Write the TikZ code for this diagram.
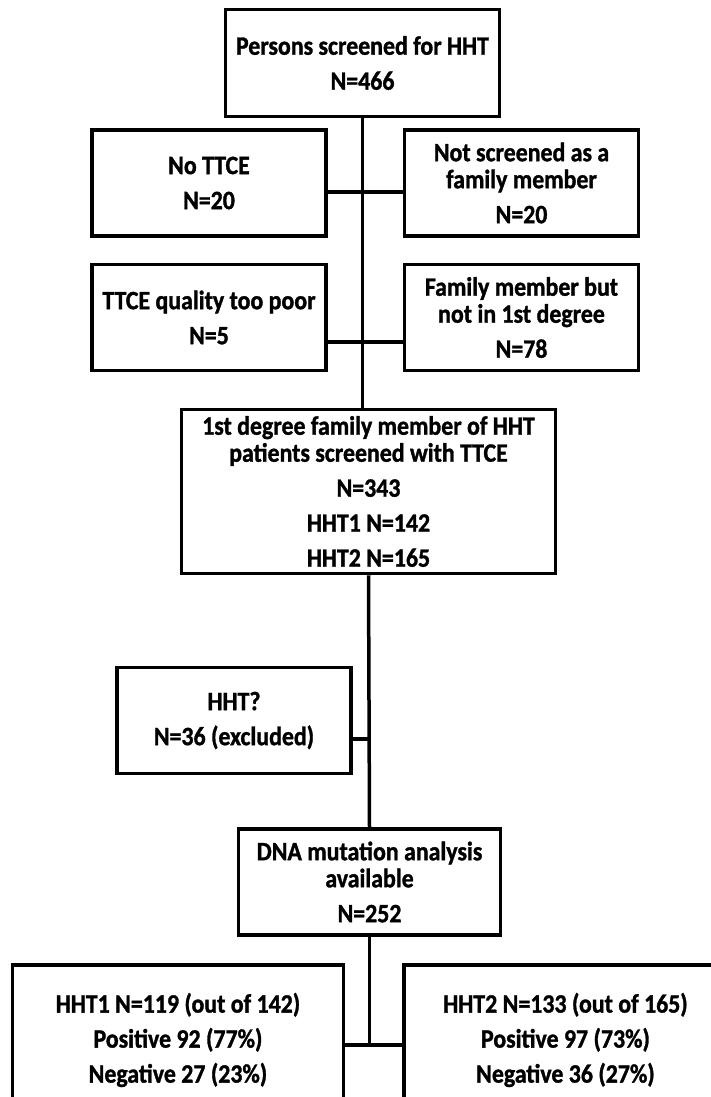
\documentclass[tikz,border=0pt]{standalone}
\usepackage{fontspec}
\setmainfont{Carlito}
\newfontfamily\heavyfont{Carlito Bold}[FakeStretch=0.9, FakeBold=1.2]
\usetikzlibrary{positioning}

\begin{document}
\begin{tikzpicture}[x=1pt, y=1pt, node distance=25pt,
box/.style={rectangle, draw, line width=3.5pt, align=center, inner sep=2pt,
  font=\heavyfont\fontsize{26.5}{27}\selectfont, minimum width=234pt, minimum height=106pt},
bigbox/.style={box, minimum width=374pt, minimum height=164pt},
outbox/.style={box, minimum height=150pt},
link/.style={line width=3.5pt}]

\useasboundingbox (0,0) rectangle (711,-1097);

\node (screened) [box, minimum width=274pt, minimum height=107pt] at (362.5,-63) {Persons screened for HHT\\[8pt]N=466};

\node (nottce) [box] at (209,-183) {No TTCE\\[8pt]N=20};
\node (notscr) [box, right = 75pt of nottce] {Not screened as a\\family member\\[8pt]N=20};
\node (poor) [box, below = of nottce] {TTCE quality too poor\\[8pt]N=5};
\node (notfirst) [box, below = of notscr] {Family member but\\not in 1st degree\\[8pt]N=78};

\node (firstdeg) [bigbox] at (368.5,-491.5) {1st degree family member of HHT\\patients screened with TTCE\\[8pt]N=343\\[8pt]HHT1 N=142\\[8pt]HHT2 N=165};

\node (unsure) [box] at (234,-720.5) {HHT?\\[8pt]N=36 (excluded)};
\node (dna) [box, minimum width=262pt] at (369.5,-882) {DNA mutation analysis\\available\\[8pt]N=252};

\node (hhtone) [outbox, minimum width=331pt] at (178,-1040) {HHT1 N=119 (out of 142)\\[8pt]Positive 92 (77\%)\\[8pt]Negative 27 (23\%)};
\node (hhttwo) [outbox, minimum width=323pt, right = 57pt of hhtone] {HHT2 N=133 (out of 165)\\[8pt]Positive 97 (73\%)\\[8pt]Negative 36 (27\%)};

% junction heights
\coordinate (j1) at (0,-192);
\coordinate (j2) at (0,-342);
\coordinate (j3) at (0,-739);
\coordinate (j4) at (0,-1045);

\draw [link] (screened.south) -- (screened.south |- firstdeg.north);
\draw [link] (nottce.east |- j1) -- (notscr.west |- j1);
\draw [link] (poor.east |- j2) -- (notfirst.west |- j2);
\draw [link] (firstdeg.south) -- (dna.north);
\draw [link] (unsure.east |- j3) -- (firstdeg.south |- j3);
\draw [link] (dna.south) -- (dna.south |- j4);
\draw [link] (hhtone.east |- j4) -- (hhttwo.west |- j4);

\end{tikzpicture}
\end{document}
